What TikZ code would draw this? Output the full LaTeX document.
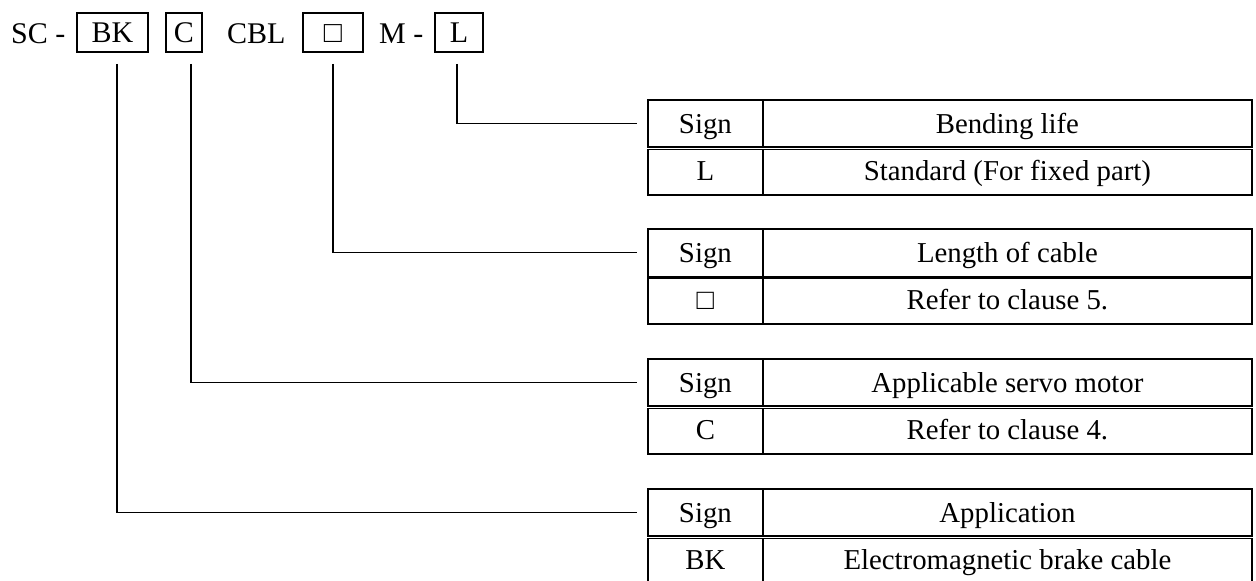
\documentclass[tikz,border=0pt]{standalone}
\usepackage{fontspec}
\setmainfont{Liberation Serif}
\usetikzlibrary{calc}

\begin{document}
\begin{tikzpicture}[x=1pt,y=-1pt,font=\fontsize{28.8}{34}\selectfont,
    codebox/.style={draw,line width=1.7pt,inner sep=0pt,minimum height=39pt,text height=20pt,text depth=0pt,font=\fontsize{30}{36}\selectfont},
    plain/.style={anchor=base west,inner sep=0pt,font=\fontsize{30}{36}\selectfont},
    signcell/.style={draw,line width=1.8pt,anchor=north west,inner sep=0pt,minimum width=115pt,minimum height=47.5pt,text height=19.5pt,text depth=0pt},
    desccell/.style={signcell,minimum width=489pt},
    lead/.style={line width=1.4pt},
    headsep/.style={double,double distance=1.6pt,line width=1.2pt}]
            \useasboundingbox (0,0) rectangle (1256,581);
            % model code
            \node[plain] (sc) at (11,43){SC -};
            \node[codebox,minimum width=71pt] (bk) at (112.5,32.5){BK};
            \node[codebox,minimum width=36pt] (mt) at (184,32.5){C};
            \node[plain] (cbl) at (227,43){CBL};
            \node[codebox,minimum width=60pt] (len) at (333,32.5){□};
            \node[plain] (m) at (379,43){M -};
            \node[codebox,minimum width=48pt] (bl) at (459,32.5){L};

            % bending life
            \node[signcell] (s1) at (647,99){Sign};
            \node[desccell] (d1) at (762,99){Bending life};
            \node[signcell] (v1) at (647,146.5){L};
            \node[desccell] (e1) at (762,146.5){Standard (For fixed part)};
            \draw[headsep] (s1.south west) -- (d1.south east);

            % length of cable
            \node[signcell] (s2) at (647,228){Sign};
            \node[desccell] (d2) at (762,228){Length of cable};
            \node[signcell] (v2) at (647,275.5){□};
            \node[desccell] (e2) at (762,275.5){Refer to clause 5.};
            \draw[line width=3.2pt] (s2.south west) -- (d2.south east);

            % servo motor
            \node[signcell] (s3) at (647,358){Sign};
            \node[desccell] (d3) at (762,358){Applicable servo motor};
            \node[signcell] (v3) at (647,405.5){C};
            \node[desccell] (e3) at (762,405.5){Refer to clause 4.};
            \draw[headsep] (s3.south west) -- (d3.south east);

            % application
            \node[signcell] (s4) at (647,488){Sign};
            \node[desccell] (d4) at (762,488){Application};
            \node[signcell] (v4) at (647,535.5){BK};
            \node[desccell] (e4) at (762,535.5){Electromagnetic brake cable};
            \draw[headsep] (s4.south west) -- (d4.south east);

            \draw[lead] ($(bl.south)+(-2,11)$) |- ($(s1.west)+(-10,0)$);
            \draw[lead] ($(len.south)+(0,11)$) |- ($(s2.west)+(-10,0)$);
            \draw[lead] ($(mt.south)+(7,11)$) |- ($(s3.west)+(-10,0)$);
            \draw[lead] ($(bk.south)+(4.5,11)$) |- ($(s4.west)+(-10,0)$);
          \end{tikzpicture}
\end{document}
